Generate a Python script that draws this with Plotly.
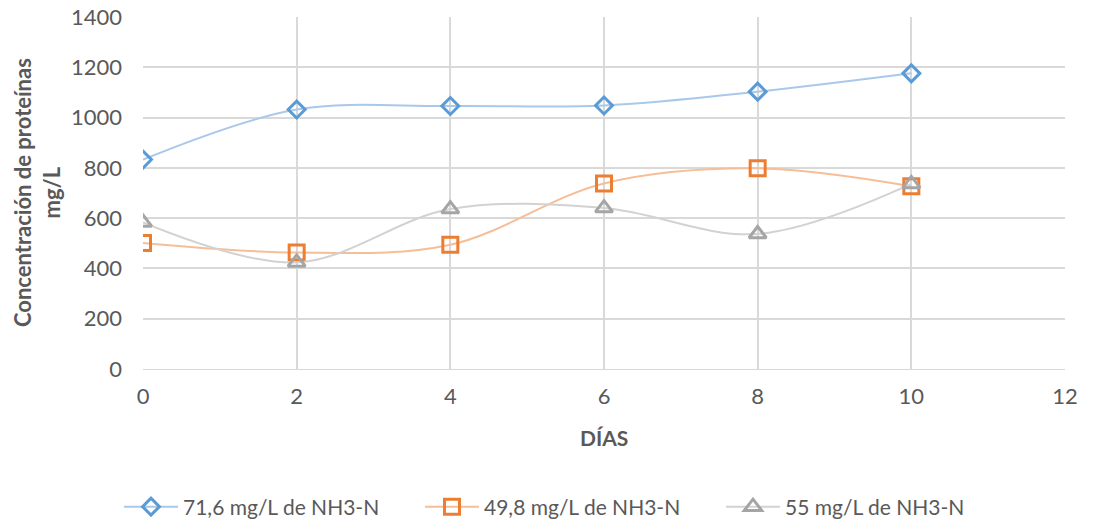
import plotly.graph_objects as go

# Días de muestreo
dias = [0, 2, 4, 6, 8, 10]

# Concentración de proteínas (mg/L) por carga de NH3-N
serie_716 = [833, 1032, 1046, 1048, 1103, 1176]
serie_498 = [501, 463, 494, 738, 798, 727]
serie_55 = [583, 424, 636, 640, 537, 736]

nombres = ["71,6 mg/L de NH3-N", "49,8 mg/L de NH3-N", "55 mg/L de NH3-N"]
marcadores = ["diamond-open", "square-open", "triangle-up-open"]
color_marcador = ["#5B9BD5", "#ED7D31", "#A5A5A5"]
color_linea = ["#A9C9EA", "#F6BE98", "#D2D2D2"]
tamanos = [13, 15, 15]

fig = go.Figure()
for y, nombre, simb, cm, cl, tam in zip(
    [serie_716, serie_498, serie_55], nombres, marcadores, color_marcador, color_linea, tamanos
):
    fig.add_trace(
        go.Scatter(
            x=dias,
            y=y,
            name=nombre,
            mode="lines+markers",
            line=dict(color=cl, width=2, shape="spline", smoothing=1.0),
            marker=dict(symbol=simb, size=tam, color=cm, line=dict(width=3, color=cm)),
        )
    )

fuente = "Lato, 'Liberation Sans', sans-serif"
gris_texto = "#595959"
grid = "#D9D9D9"

fig.update_layout(
    width=1094,
    height=521,
    margin=dict(l=143, r=29, t=17, b=152, autoexpand=False),
    paper_bgcolor="white",
    plot_bgcolor="white",
    font=dict(family=fuente, size=22, color=gris_texto),
    showlegend=True,
    legend=dict(
        orientation="h",
        x=119 / 1094,
        xref="container",
        xanchor="left",
        y=(521 - 507) / 521,
        yref="container",
        yanchor="middle",
        font=dict(size=21, color=gris_texto),
        itemwidth=54,
        entrywidth=232,
        tracegroupgap=0,
    ),
    xaxis=dict(
        range=[0, 12],
        dtick=2,
        showgrid=True,
        gridcolor=grid,
        gridwidth=1.5,
        zeroline=False,
        showline=True,
        linecolor=grid,
        ticks="",
        automargin=False,
        tickfont=dict(size=22, color=gris_texto),
        ticklabelstandoff=8,
    ),
    yaxis=dict(
        range=[0, 1400],
        dtick=200,
        showgrid=True,
        gridcolor=grid,
        gridwidth=1.5,
        zeroline=False,
        showline=False,
        ticks="",
        automargin=False,
        tickfont=dict(size=22, color=gris_texto),
        ticklabelstandoff=20,
    ),
    annotations=[
        dict(
            text="<b>DÍAS</b>",
            xref="paper",
            yref="paper",
            x=0.5,
            y=-(437 - 369) / 352,
            xanchor="center",
            yanchor="middle",
            showarrow=False,
            font=dict(size=21, color=gris_texto),
        ),
        dict(
            text="<b>Concentración de proteínas<br>mg/L</b>",
            xref="paper",
            yref="paper",
            x=-(143 - 37) / 922,
            y=0.5,
            xanchor="center",
            yanchor="middle",
            textangle=-90,
            showarrow=False,
            font=dict(size=22, color=gris_texto),
        ),
    ],
)

fig.write_html("out.html")
